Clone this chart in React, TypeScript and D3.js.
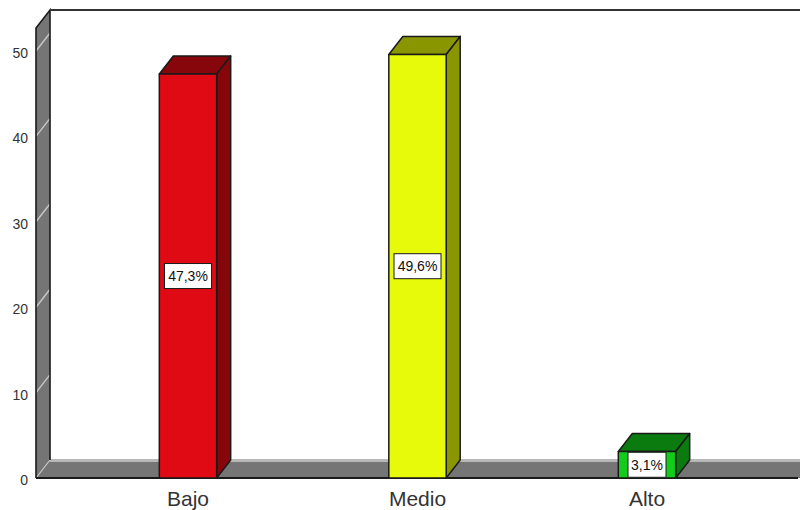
import * as d3 from 'd3';

const categories = ['Bajo', 'Medio', 'Alto'];
const percentages = [47.3, 49.6, 3.1];
const percentLabels = ['47,3%', '49,6%', '3,1%'];
const frontColors = ['#e00a14', '#e6fa0a', '#12cc1a'];
const sideColors = ['#87060c', '#8a9600', '#0b7a0f'];
const yTicks = [0, 10, 20, 30, 40, 50];

const width = 800;
const height = 510;
// oblique offset of the 3D depth
const depthX = 14;
const depthY = 18;

const x = d3.scaleBand<string>()
  .domain(categories)
  .range([73.25, 761.75])
  .paddingInner(0.75)
  .paddingOuter(0.375);

const y = d3.scaleLinear().domain([0, 50]).range([478, 51]);

const left = 36;
const yMax = 28;
const stroke = '#1a1a1a';
const font = '"Liberation Sans", Arial, sans-serif';

const poly = (pts: [number, number][]) => {
  const line = d3.line();
  return (line(pts) || '') + 'Z';
};

export default function App() {
  const y0 = y(0);
  return (
    <svg
      width={width}
      height={height}
      viewBox={`0 0 ${width} ${height}`}
      style={{ position: 'absolute', left: 0, top: 0, background: '#fff' }}
      fontFamily={font}
    >
      {/* Floor */}
      <path
        d={poly([[left, y0], [left + depthX, y0 - depthY], [width, y0 - depthY], [width, y0]])}
        fill="#757575"
      />
      <rect x={left + depthX} y={y0 - depthY - 1} width={width - left - depthX} height={3} fill="#b8b8b8" />

      {/* Left wall */}
      <path
        d={poly([[left, yMax], [left + depthX, yMax - depthY], [left + depthX, y0 - depthY], [left, y0]])}
        fill="#757575"
      />
      <line x1={left} y1={y0} x2={left + depthX} y2={y0 - depthY} stroke="#c8c8c8" strokeWidth={1.2} />
      {yTicks.filter(t => t > 0).map(t => (
        <line key={t} x1={left} y1={y(t)} x2={left + depthX} y2={y(t) - depthY} stroke="#c8c8c8" strokeWidth={1.4} />
      ))}
      <path
        d={`M${left},${y0}V${yMax}L${left + depthX},${yMax - depthY}V${y0 - depthY}`}
        fill="none"
        stroke={stroke}
        strokeWidth={1.6}
      />
      <line x1={left + depthX} y1={yMax - depthY} x2={width} y2={yMax - depthY} stroke="#333" strokeWidth={2} />
      <line x1={left} y1={y0} x2={width - 2} y2={y0} stroke={stroke} strokeWidth={2} />

      {/* Y tick labels */}
      {yTicks.map(t => (
        <text key={t} x={28} y={y(t) + 2} dy="0.36em" textAnchor="end" fontSize={14} fill="#333">
          {t}
        </text>
      ))}

      {/* Bars */}
      {categories.map((c, i) => {
        const x0 = x(c) as number;
        const x1 = x0 + x.bandwidth();
        const top = y(percentages[i]);
        return (
          <g key={c} stroke={stroke} strokeWidth={1.5} strokeLinejoin="round">
            <path
              d={poly([[x0, top], [x0 + depthX, top - depthY], [x1 + depthX, top - depthY], [x1, top]])}
              fill={sideColors[i]}
            />
            <path
              d={poly([[x1, top], [x1 + depthX, top - depthY], [x1 + depthX, y0 - depthY], [x1, y0]])}
              fill={sideColors[i]}
            />
            <rect x={x0} y={top} width={x.bandwidth()} height={y0 - top} fill={frontColors[i]} />
          </g>
        );
      })}

      {/* Percent labels */}
      {categories.map((c, i) => {
        const cx = (x(c) as number) + x.bandwidth() / 2;
        const cy = y(percentages[i] / 2);
        const boxW = percentLabels[i].length > 4 ? 47 : 38;
        return (
          <g key={c}>
            <rect
              x={cx - boxW / 2}
              y={cy - 12.5}
              width={boxW}
              height={25}
              fill="#fff"
              stroke={stroke}
              strokeWidth={1}
            />
            <text x={cx} y={cy} dy="0.36em" textAnchor="middle" fontSize={14} fill="#111">
              {percentLabels[i]}
            </text>
          </g>
        );
      })}

      {/* Category labels */}
      {categories.map(c => (
        <text
          key={c}
          x={(x(c) as number) + x.bandwidth() / 2}
          y={506}
          textAnchor="middle"
          fontSize={21}
          fill="#333"
        >
          {c}
        </text>
      ))}
    </svg>
  );
}
